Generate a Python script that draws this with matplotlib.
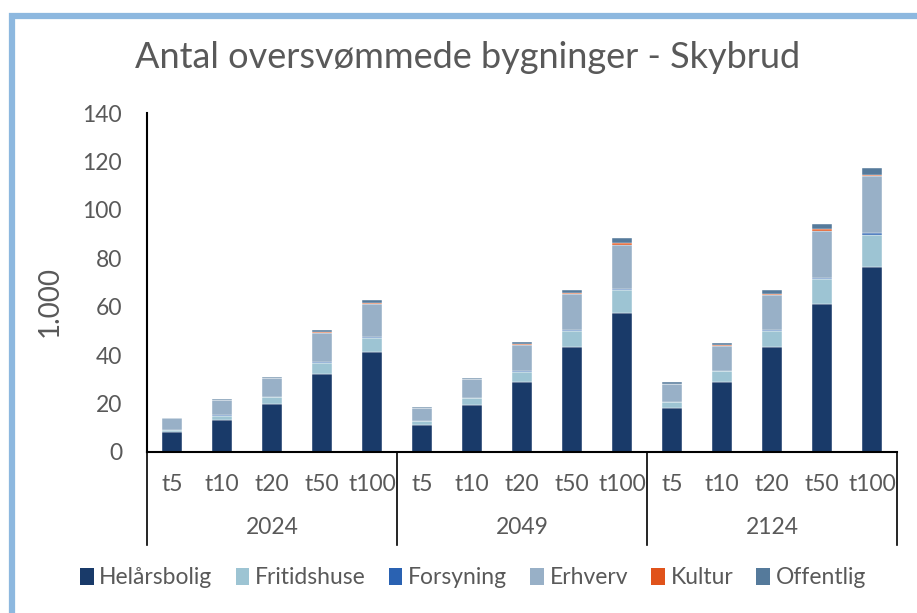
import numpy as np
import matplotlib.pyplot as plt
from matplotlib.patches import Rectangle, Patch
from matplotlib.lines import Line2D
import matplotlib.transforms as mtransforms

plt.rcParams['font.family'] = ['Lato', 'DejaVu Sans']

# ---------------- data ----------------
years = ["2024", "2049", "2124"]
periods = ["t5", "t10", "t20", "t50", "t100"]

series_names = ["Helårsbolig", "Fritidshuse", "Forsyning", "Erhverv", "Kultur", "Offentlig"]
colors = ["#193A69", "#9DC4D3", "#2A62B2", "#98B0C7", "#E0531B", "#557A9B"]

# values in 1.000 (ordered 2024 t5..t100, 2049 t5..t100, 2124 t5..t100)
helaarsbolig = [8.1, 13.3, 19.8, 32.4, 41.2,
                11.2, 19.6, 29.1, 43.5, 57.6,
                18.3, 29.1, 43.5, 61.3, 76.2]
fritidshuse = [1.0, 1.7, 2.8, 4.4, 5.9,
               1.6, 2.6, 4.1, 6.6, 9.3,
               2.4, 4.2, 6.5, 10.0, 13.3]
forsyning = [0.05, 0.2, 0.2, 0.4, 0.5,
             0.1, 0.2, 0.3, 0.3, 0.5,
             0.1, 0.3, 0.4, 0.7, 1.0]
erhverv = [4.8, 6.2, 7.6, 11.8, 13.6,
           5.1, 7.6, 10.6, 14.8, 18.1,
           7.2, 10.3, 14.6, 19.3, 23.4]
kultur = [0.1, 0.1, 0.2, 0.4, 0.4,
          0.1, 0.2, 0.4, 0.3, 0.9,
          0.2, 0.4, 0.3, 0.6, 0.7]
offentlig = [0.0, 0.4, 0.5, 0.9, 1.3,
             0.3, 0.5, 0.8, 1.4, 1.9,
             0.7, 0.9, 1.6, 2.2, 2.8]

series = [helaarsbolig, fritidshuse, forsyning, erhverv, kultur, offentlig]

# ---------------- figure ----------------
fig = plt.figure(figsize=(9.17, 6.13), dpi=100)
ax = fig.add_axes([147 / 917, 1 - 452 / 613, 750 / 917, 339 / 613])

# light blue frame of the chart object
fig.patches.append(Rectangle((12 / 917, -0.2), 1.2, 1.2 - 16 / 613,
                             transform=fig.transFigure, fill=False,
                             edgecolor="#8DB8DF", linewidth=4.5))

n = len(years) * len(periods)
x = np.arange(n)
bottom = np.zeros(n)
for name, vals, col in zip(series_names, series, colors):
    ax.bar(x, vals, width=0.4, bottom=bottom, color=col, label=name,
           edgecolor="white", linewidth=0.3)
    bottom += np.array(vals)

ax.set_xlim(-0.5, n - 0.5)
ax.set_ylim(0, 140)
ax.set_yticks(np.arange(0, 141, 20))
ax.tick_params(axis="y", length=0, pad=18, labelsize=16.5, labelcolor="#595959")
ax.set_xticks(x)
ax.set_xticklabels(periods * len(years))
ax.tick_params(axis="x", length=0, pad=16, labelsize=16.5, labelcolor="#595959")

for s in ["top", "right"]:
    ax.spines[s].set_visible(False)
ax.spines["left"].set_color("black")
ax.spines["left"].set_linewidth(1.5)
ax.spines["bottom"].set_color("black")
ax.spines["bottom"].set_linewidth(1.5)

ax.set_ylabel("1.000", fontsize=20, color="#595959")
ax.yaxis.set_label_coords(-0.113, 0.445)

# group separators and year labels
trans = mtransforms.blended_transform_factory(ax.transData, ax.transAxes)
depth = (545 - 452) / 339
for k in range(len(years) + 1):
    xs = k * len(periods) - 0.5
    ax.add_line(Line2D([xs, xs], [0, -depth], transform=trans, color="black",
                       linewidth=1.2, clip_on=False))
for k, yr in enumerate(years):
    xc = k * len(periods) + (len(periods) - 1) / 2
    ax.text(xc, -(527 - 452) / 339, yr, transform=trans, ha="center", va="center",
            fontsize=16.5, color="#595959")

fig.text(468 / 917, 1 - 58 / 613, "Antal oversvømmede bygninger - Skybrud",
         ha="center", va="center", fontsize=26, color="#595959")

handles = [Patch(facecolor=c, edgecolor="none") for c in colors]
fig.legend(handles, series_names, loc="center", bbox_to_anchor=(473 / 917, 1 - 578 / 613),
           ncol=6, frameon=False, fontsize=16.5, handlelength=0.6, handleheight=0.8,
           handletextpad=0.25, columnspacing=1.0, labelcolor="#595959")

fig.savefig("out.png", dpi=100)
